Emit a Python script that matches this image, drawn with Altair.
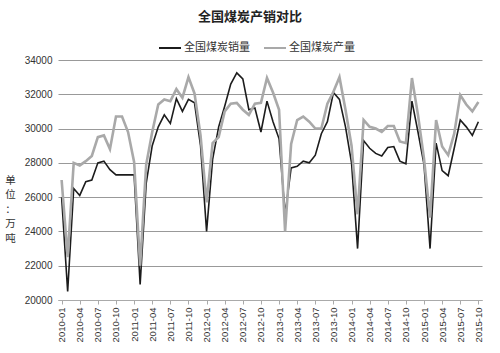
import altair as alt
import pandas as pd

# Months 2010-01 .. 2015-10
months = [f"{y}-{m:02d}" for y in range(2010, 2016) for m in range(1, 13)][:70]
tick_months = [m for m in months if int(m[-2:]) in (1, 4, 7, 10)]

series_names = ["全国煤炭销量", "全国煤炭产量"]

sales = [
    26000, 20500, 26500, 26100, 26900, 27000, 28000, 28100, 27600, 27300, 27300, 27300,
    27300, 20900, 26800, 29000, 30100, 30800, 30300, 31750, 31000, 31700, 31500, 29000,
    24000, 28200, 30100, 31300, 32600, 33250, 32900, 31100, 31200, 29800, 31600, 30400,
    29400, 25000, 27700, 27800, 28100, 28000, 28450, 29700, 30400, 32100, 31700, 30100,
    28000, 23000, 29300, 28850, 28550, 28400, 28900, 28950, 28100, 27950, 31600, 29800,
    27900, 23000, 29150, 27550, 27250, 28850, 30500, 30100, 29600, 30400,
]
production = [
    27000, 22500, 28000, 27850, 28100, 28400, 29500, 29600, 28800, 30700, 30700, 29800,
    28050, 22000, 27900, 29800, 31400, 31700, 31600, 32300, 31800, 33000, 32050, 29600,
    25700, 29150, 29500, 31000, 31450, 31500, 31100, 30800, 31450, 31500, 32950, 32100,
    31100, 24000, 29100, 30500, 30700, 30400, 30000, 30000, 31450, 32150, 33000, 31100,
    29000, 25000, 30500, 30100, 30000, 29800, 30150, 30150, 29250, 29150, 32950, 30800,
    28250, 24800, 30500, 28950, 28450, 29700, 31950, 31400, 31000, 31550,
]

df = pd.DataFrame(
    {
        "month": months * 2,
        "series": [series_names[0]] * len(months) + [series_names[1]] * len(months),
        "value": sales + production,
    }
)

cjk = "Noto Sans CJK SC"

x = alt.X(
    "month:O",
    sort=months,
    scale=alt.Scale(type="point", padding=0.6),
    axis=alt.Axis(
        values=tick_months,
        labelAngle=-90,
        labelFont="Liberation Sans",
        labelFontSize=9.5,
        labelColor="#333",
        labelPadding=3,
        tickColor="#aaa",
        tickSize=4,
        domainColor="#aaa",
        grid=False,
        title=None,
    ),
)
y = alt.Y(
    "value:Q",
    scale=alt.Scale(domain=[20000, 34000], nice=False, zero=False),
    axis=alt.Axis(
        values=list(range(20000, 34001, 2000)),
        format="d",
        labelFont="Liberation Sans",
        labelFontSize=10,
        labelColor="#333",
        labelPadding=6,
        ticks=False,
        domain=False,
        grid=True,
        gridColor="#999",
        gridWidth=1,
        title=["单", "位", "：", "万", "吨"],
        titleAngle=0,
        titleFont=cjk,
        titleFontSize=10.5,
        titleFontWeight="normal",
        titleColor="#333",
        titleLineHeight=14.5,
        titleX=-48,
        titleY=115,
        titleAlign="center",
        titleBaseline="top",
    ),
)
color = alt.Color(
    "series:N",
    scale=alt.Scale(domain=series_names, range=["#1c1c1c", "#a9a9a9"]),
    legend=alt.Legend(
        title=None,
        orient="none",
        direction="horizontal",
        legendX=100,
        legendY=-24,
        symbolType="stroke",
        symbolSize=484,
        symbolStrokeWidth=2,
        labelFont=cjk,
        labelFontSize=11,
        labelColor="#333",
        labelOffset=2,
        columnPadding=10,
    ),
)

sales_layer = (
    alt.Chart(df)
    .transform_filter(alt.datum.series == series_names[0])
    .mark_line(strokeWidth=1.6)
    .encode(x=x, y=y, color=color)
)
prod_layer = (
    alt.Chart(df)
    .transform_filter(alt.datum.series == series_names[1])
    .mark_line(strokeWidth=2.6)
    .encode(x=x, y=y, color=color)
)

chart = (
    alt.layer(sales_layer, prod_layer)
    .properties(
        width=424,
        height=240,
        autosize=alt.AutoSizeParams(type="none"),
        padding={"left": 58, "top": 60, "right": 18, "bottom": 53},
        title=alt.TitleParams(
            text="全国煤炭产销对比",
            font=cjk,
            fontSize=13,
            fontWeight="bold",
            color="#222",
            anchor="middle",
            dx=-20,
            offset=12,
        ),
        background="white",
    )
    .configure_view(stroke=None)
)

chart.save("out.html", embed_options={"renderer": "svg", "actions": False})
